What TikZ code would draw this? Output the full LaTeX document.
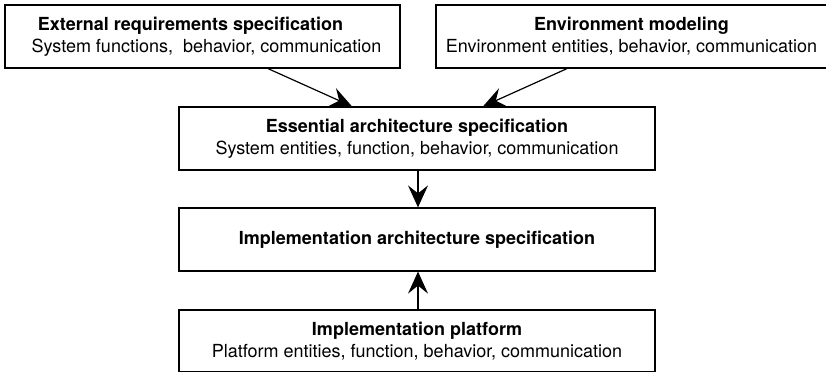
\documentclass[tikz,border=0pt]{standalone}
\usepackage{fontspec}
\setmainfont{TeX Gyre Heros}
\usetikzlibrary{arrows.meta}
\begin{document}
\begin{tikzpicture}[x=1pt,y=-1pt,
  box/.style={draw, line width=1.2pt, rectangle, inner sep=0pt, align=center,
    font=\fontsize{18}{22}\selectfont},
  wide/.style={minimum width=476pt, minimum height=63pt},
  arr/.style={line width=1.2pt, -{Stealth[length=22pt,width=20pt,inset=8pt]}}]
\useasboundingbox (0,0) rectangle (826,373);

% top row: sources of the essential architecture
\node[box, minimum width=395pt, minimum height=63pt] (ext) at (202.5,36.5)
  {\textbf{External requirements specification}\hspace*{24pt}\\
   \hspace*{8pt}System functions,\ \ behavior, communication};
\node[box, minimum width=391pt, minimum height=63pt] (env) at (631.5,36.5)
  {\textbf{Environment modeling}\\Environment entities, behavior, communication};

% central column
\node[box, wide] (ess) at (417,138.5)
  {\textbf{Essential architecture specification}\\System entities, function, behavior, communication};
\node[box, wide] (impl) at (417,239.5)
  {\textbf{Implementation architecture specification}};
\node[box, minimum width=476pt, minimum height=61.5pt] (plat) at (417,340.75)
  {\textbf{Implementation platform}\\Platform entities, function, behavior, communication};

% connectors
\draw[arr] ([xshift=65.5pt]ext.south) -- ([xshift=-65pt]ess.north);
\draw[arr] ([xshift=-64.5pt]env.south) -- ([xshift=66pt]ess.north);
\draw[arr] ([xshift=1pt]ess.south) -- ([xshift=1pt]impl.north);
\draw[arr] ([xshift=1pt]plat.north) -- ([xshift=1pt]impl.south);
\end{tikzpicture}
\end{document}
